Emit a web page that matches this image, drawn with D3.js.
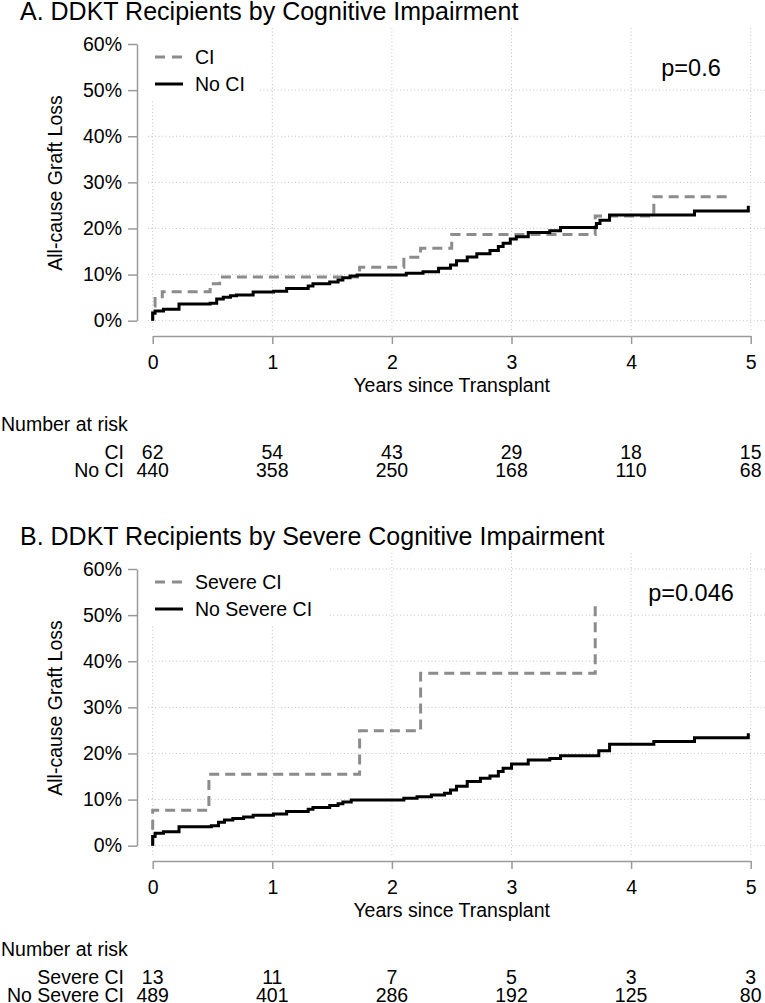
<!DOCTYPE html>
<html>
<head>
<meta charset="utf-8">
<title>DDKT Graft Loss</title>
<script src="https://cdnjs.cloudflare.com/ajax/libs/d3/7.8.5/d3.min.js"></script>
<style>
 body { margin: 0; background: white; }
 text { font-family: "Liberation Sans", Arial, sans-serif; fill: black; }
 .grid { stroke: #c4c4c4; stroke-width: 1; stroke-dasharray: 1,2.5; }
 .axis path, .axis line { stroke: #9a9a9a; stroke-width: 1.5; }
 .axis text { font-size: 19.5px; fill: black; }
</style>
</head>
<body>
<svg id="viz" width="765" height="1003"></svg>
<script>

// time axis and risk table columns
var years = [0, 1, 2, 3, 4, 5];
var yTicks = [0, 0.1, 0.2, 0.3, 0.4, 0.5, 0.6];

// Kaplan-Meier steps, [years, cumulative graft loss]
var ciSteps = [[0,0],[0,0.032],[0.02,0.048],[0.08,0.063],[0.48,0.080],[0.56,0.095],
  [1.73,0.116],[2.10,0.1375],[2.24,0.157],[2.50,0.187],[3.70,0.227],[4.19,0.269],[4.84,0.269]];

var noCiSteps = [[0,0],[0,0.016],[0.02,0.021],[0.09,0.025],[0.22,0.036],[0.48,0.038],
  [0.535,0.047],[0.59,0.051],[0.65,0.054],[0.70,0.056],[0.84,0.062],[1.01,0.064],
  [1.12,0.070],[1.30,0.075],[1.34,0.080],[1.48,0.084],[1.55,0.088],[1.59,0.093],
  [1.65,0.097],[1.71,0.099],[2.12,0.103],[2.26,0.106],[2.39,0.114],[2.49,0.121],
  [2.54,0.130],[2.63,0.138],[2.71,0.145],[2.82,0.152],[2.89,0.161],[2.93,0.168],
  [2.99,0.177],[3.04,0.182],[3.14,0.191],[3.32,0.195],[3.41,0.202],[3.71,0.211],
  [3.74,0.218],[3.82,0.229],[4.53,0.238],[4.98,0.249]];

var severeSteps = [[0,0],[0,0.077],[0.47,0.155],[1.73,0.249],[2.24,0.374],[3.70,0.529]];

var noSevereSteps = [[0,0],[0,0.020],[0.02,0.027],[0.09,0.030],[0.22,0.041],[0.49,0.043],
  [0.55,0.051],[0.60,0.056],[0.67,0.059],[0.76,0.062],[0.84,0.066],[1.01,0.069],
  [1.12,0.074],[1.30,0.079],[1.34,0.083],[1.48,0.087],[1.55,0.091],[1.59,0.095],
  [1.66,0.099],[2.10,0.103],[2.21,0.106],[2.33,0.110],[2.44,0.114],[2.49,0.121],
  [2.54,0.129],[2.63,0.139],[2.74,0.146],[2.82,0.151],[2.89,0.161],[2.93,0.168],
  [3.00,0.177],[3.14,0.186],[3.32,0.189],[3.41,0.195],[3.73,0.206],[3.82,0.220],
  [4.19,0.226],[4.53,0.234],[4.98,0.244]];

// number at risk
var riskCI = [62, 54, 43, 29, 18, 15];
var riskNoCI = [440, 358, 250, 168, 110, 68];
var riskSevere = [13, 11, 7, 5, 3, 3];
var riskNoSevere = [489, 401, 286, 192, 125, 80];

var panels = [
  { title: "A. DDKT Recipients by Cognitive Impairment", p: "p=0.6", top: 0,
    groups: ["CI", "No CI"], steps: [ciSteps, noCiSteps], risk: [riskCI, riskNoCI],
    legendW: 114, gridTop: false },
  { title: "B. DDKT Recipients by Severe Cognitive Impairment", p: "p=0.046", top: 525,
    groups: ["Severe CI", "No Severe CI"], steps: [severeSteps, noSevereSteps],
    risk: [riskSevere, riskNoSevere], legendW: 184, gridTop: true }
];

var svg = d3.select("#viz");
svg.append("rect").attr("width", 765).attr("height", 1003).attr("fill", "white");

var x = d3.scaleLinear().domain([0, 5]).range([152.7, 750.7]);
var y = d3.scaleLinear().domain([0, 0.6]).range([320.7, 44]);

var styles = [
  { stroke: "#8c8c8c", dash: "10,6" },
  { stroke: "black", dash: null }
];

panels.forEach(function(pn) {
  var g = svg.append("g").attr("transform", "translate(0," + pn.top + ")");

  g.append("text")
    .attr("x", 20).attr("y", 20)
    .style("font-size", "25px")
    .text(pn.title);

  // grid
  g.selectAll(".hgrid")
    .data(pn.gridTop ? yTicks : yTicks.slice(0, -1))
    .enter().append("line")
    .attr("class", "grid")
    .attr("x1", 148).attr("x2", 765)
    .attr("y1", function(d) { return y(d); })
    .attr("y2", function(d) { return y(d); });

  g.selectAll(".vgrid")
    .data(years)
    .enter().append("line")
    .attr("class", "grid")
    .attr("x1", function(d) { return x(d); })
    .attr("x2", function(d) { return x(d); })
    .attr("y1", 28).attr("y2", 331);

  // legend box hides the grid behind it
  g.append("rect")
    .attr("x", 144).attr("y", 28)
    .attr("width", pn.legendW).attr("height", 72)
    .attr("fill", "white");

  var leg = g.selectAll(".leg")
    .data(pn.groups)
    .enter().append("g")
    .attr("transform", function(d, i) { return "translate(0," + (57 + i * 27) + ")"; });

  leg.append("line")
    .attr("x1", 155).attr("x2", 183)
    .attr("stroke", function(d, i) { return styles[i].stroke; })
    .attr("stroke-width", 3)
    .attr("stroke-dasharray", function(d, i) { return i === 0 ? "10,7" : null; });

  leg.append("text")
    .attr("x", 195).attr("dy", "0.35em")
    .style("font-size", "19.5px")
    .text(function(d) { return d; });

  // axes
  g.append("g")
    .attr("class", "axis")
    .attr("transform", "translate(137,0)")
    .call(d3.axisLeft(y).tickValues(yTicks).tickSize(9).tickSizeOuter(0)
      .tickPadding(6).tickFormat(d3.format(".0%")));

  g.append("g")
    .attr("class", "axis")
    .attr("transform", "translate(0,336)")
    .call(d3.axisBottom(x).tickValues(years).tickSize(8).tickSizeOuter(0)
      .tickPadding(11).tickFormat(d3.format("d")));

  g.append("text")
    .attr("transform", "translate(55,183) rotate(-90)")
    .attr("dy", "0.35em")
    .style("text-anchor", "middle")
    .style("font-size", "19.5px")
    .text("All-cause Graft Loss");

  g.append("text")
    .attr("x", (x(0) + x(5)) / 2).attr("y", 385)
    .attr("dy", "0.35em")
    .style("text-anchor", "middle")
    .style("font-size", "19.5px")
    .text("Years since Transplant");

  g.append("text")
    .attr("x", 691).attr("y", 68)
    .attr("dy", "0.35em")
    .style("text-anchor", "middle")
    .style("font-size", "23.5px")
    .text(pn.p);

  // curves
  var line = d3.line()
    .x(function(d) { return x(d[0]); })
    .y(function(d) { return y(d[1]); })
    .curve(d3.curveStepAfter);

  pn.steps.forEach(function(s, i) {
    g.append("path")
      .datum(s)
      .attr("fill", "none")
      .attr("stroke", styles[i].stroke)
      .attr("stroke-width", 3)
      .attr("stroke-dasharray", styles[i].dash)
      .attr("d", line);
  });

  // number at risk
  g.append("text")
    .attr("x", 1).attr("y", 424)
    .attr("dy", "0.35em")
    .style("font-size", "19.5px")
    .text("Number at risk");

  pn.risk.forEach(function(r, i) {
    var ry = 452 + i * 18.5;
    g.append("text")
      .attr("x", 124).attr("y", ry)
      .attr("dy", "0.35em")
      .style("text-anchor", "end")
      .style("font-size", "19.5px")
      .text(pn.groups[i]);

    g.selectAll(".risk" + i)
      .data(r)
      .enter().append("text")
      .attr("x", function(d, j) { return x(years[j]); })
      .attr("y", ry)
      .attr("dy", "0.35em")
      .style("text-anchor", "middle")
      .style("font-size", "19.5px")
      .text(function(d) { return d; });
  });
});

</script>
</body>
</html>
